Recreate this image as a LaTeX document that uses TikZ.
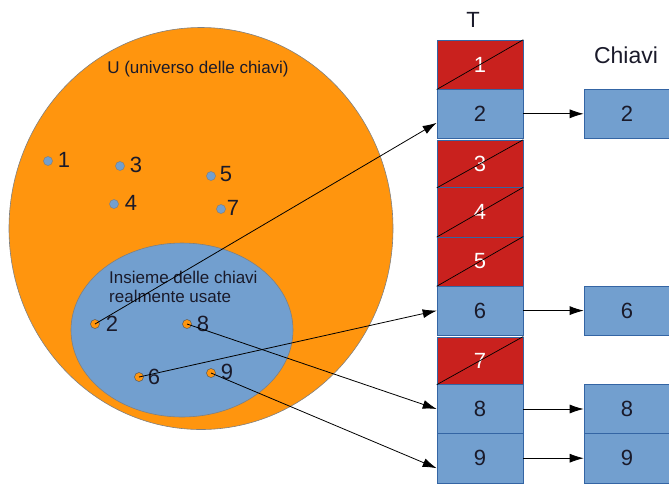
\documentclass[tikz,border=0pt]{standalone}
\usepackage{fontspec}
\setmainfont{Liberation Sans}
\usetikzlibrary{arrows.meta,calc,shapes.geometric}
\definecolor{orng}{HTML}{FF950E}
\definecolor{lblue}{HTML}{729FCF}
\definecolor{dred}{HTML}{C9211E}
\definecolor{bord}{HTML}{3465A4}
\definecolor{dtext}{HTML}{1A1A2A}
\begin{document}
\begin{tikzpicture}[x=1pt,y=-1pt,
  bigfont/.style={font=\fontsize{22}{22}\selectfont},
  cell/.style={rectangle,minimum width=86pt,minimum height=49.2pt,inner sep=0pt,draw=bord,line width=0.6pt,bigfont},
  usedcell/.style={cell,fill=lblue,text=dtext},
  freecell/.style={cell,fill=dred,text=white},
  udot/.style={circle,fill=lblue,draw=gray,line width=0.5pt,minimum size=9pt,inner sep=0pt},
  kdot/.style={circle,fill=orng,draw=gray!70!black,line width=0.5pt,minimum size=9pt,inner sep=0pt},
  dlabel/.style={bigfont,text=dtext,inner sep=0pt},
  link/.style={-{Latex[length=14pt,width=9pt]},line width=0.8pt,black},
  cross/.style={line width=0.7pt,black},
  setlabel/.style={font=\fontsize{17}{19}\selectfont,text=dtext,inner sep=0pt}
]
\useasboundingbox (0,0) rectangle (669,483);
% universe
\node[ellipse,draw=gray,line width=0.6pt,fill=orng,minimum width=384pt,minimum height=402pt,inner sep=0pt] (U) at (201,228.5) {};
\node[setlabel] (Ulab) at (198,69) {U (universo delle chiavi)};
% used keys set
\node[ellipse,draw=gray,line width=0.6pt,fill=lblue,minimum width=222pt,minimum height=174pt,inner sep=0pt] (K) at (182,330) {};
\node[setlabel,align=left,anchor=west] (Klab) at (109,286.5) {Insieme delle chiavi\\realmente usate};
% unused keys
\node[udot] (d1) at (48,161) {};
\node[dlabel] (l1) at (64,160) {1};
\node[udot] (d3) at (120,166) {};
\node[dlabel] (l3) at (136,165) {3};
\node[udot] (d4) at (114,204) {};
\node[dlabel] (l4) at (131,203) {4};
\node[udot] (d5) at (211,176) {};
\node[dlabel] (l5) at (226,174) {5};
\node[udot] (d7) at (221,209) {};
\node[dlabel] (l7) at (233,208) {7};
% used keys
\node[kdot] (d2) at (95,324) {};
\node[dlabel] (l2) at (112,324) {2};
\node[kdot] (d8) at (187,324) {};
\node[dlabel] (l8) at (203,324) {8};
\node[kdot] (d6) at (139,377) {};
\node[dlabel] (l6) at (154,377) {6};
\node[kdot] (d9) at (211,373) {};
\node[dlabel] (l9) at (227,372) {9};
% table T
\node[bigfont,text=dtext] (T) at (473,20) {T};
\node[freecell] (r1) at (480,64.6) {1};
\node[usedcell] (r2) at (480,113.8) {2};
\node[freecell,minimum height=47.6pt] (r3) at (480,163.8) {3};
\node[freecell] (r4) at (480,212.2) {4};
\node[freecell] (r5) at (480,261.4) {5};
\node[usedcell] (r6) at (480,310.6) {6};
\node[freecell,minimum height=47.6pt] (r7) at (480,360.6) {7};
\node[usedcell] (r8) at (480,409.0) {8};
\node[usedcell] (r9) at (480,458.2) {9};
\foreach \r in {r1,r3,r4,r5,r7}{
  \draw[cross] (\r.south west) -- (\r.north east);
}
% keys
\node[font=\fontsize{23}{23}\selectfont,text=dtext] (Ch) at (626,55) {Chiavi};
\node[usedcell] (c2) at (627,113.8) {2};
\node[usedcell] (c6) at (627,310.6) {6};
\node[usedcell] (c8) at (627,409.0) {8};
\node[usedcell] (c9) at (627,458.2) {9};
\draw[link] (r2) -- (c2);
\draw[link] (r6) -- (c6);
\draw[link] (r8) -- (c8);
\draw[link] (r9) -- (c9);
% links from keys to table
\draw[link] (d2.center) -- ($(r2.west)+(0,9)$);
\draw[link] (d6.center) -- (r6.west);
\draw[link] (d8.center) -- (r8.west);
\draw[link] (d9.center) -- ($(r9.west)+(0,10)$);
\end{tikzpicture}
\end{document}
